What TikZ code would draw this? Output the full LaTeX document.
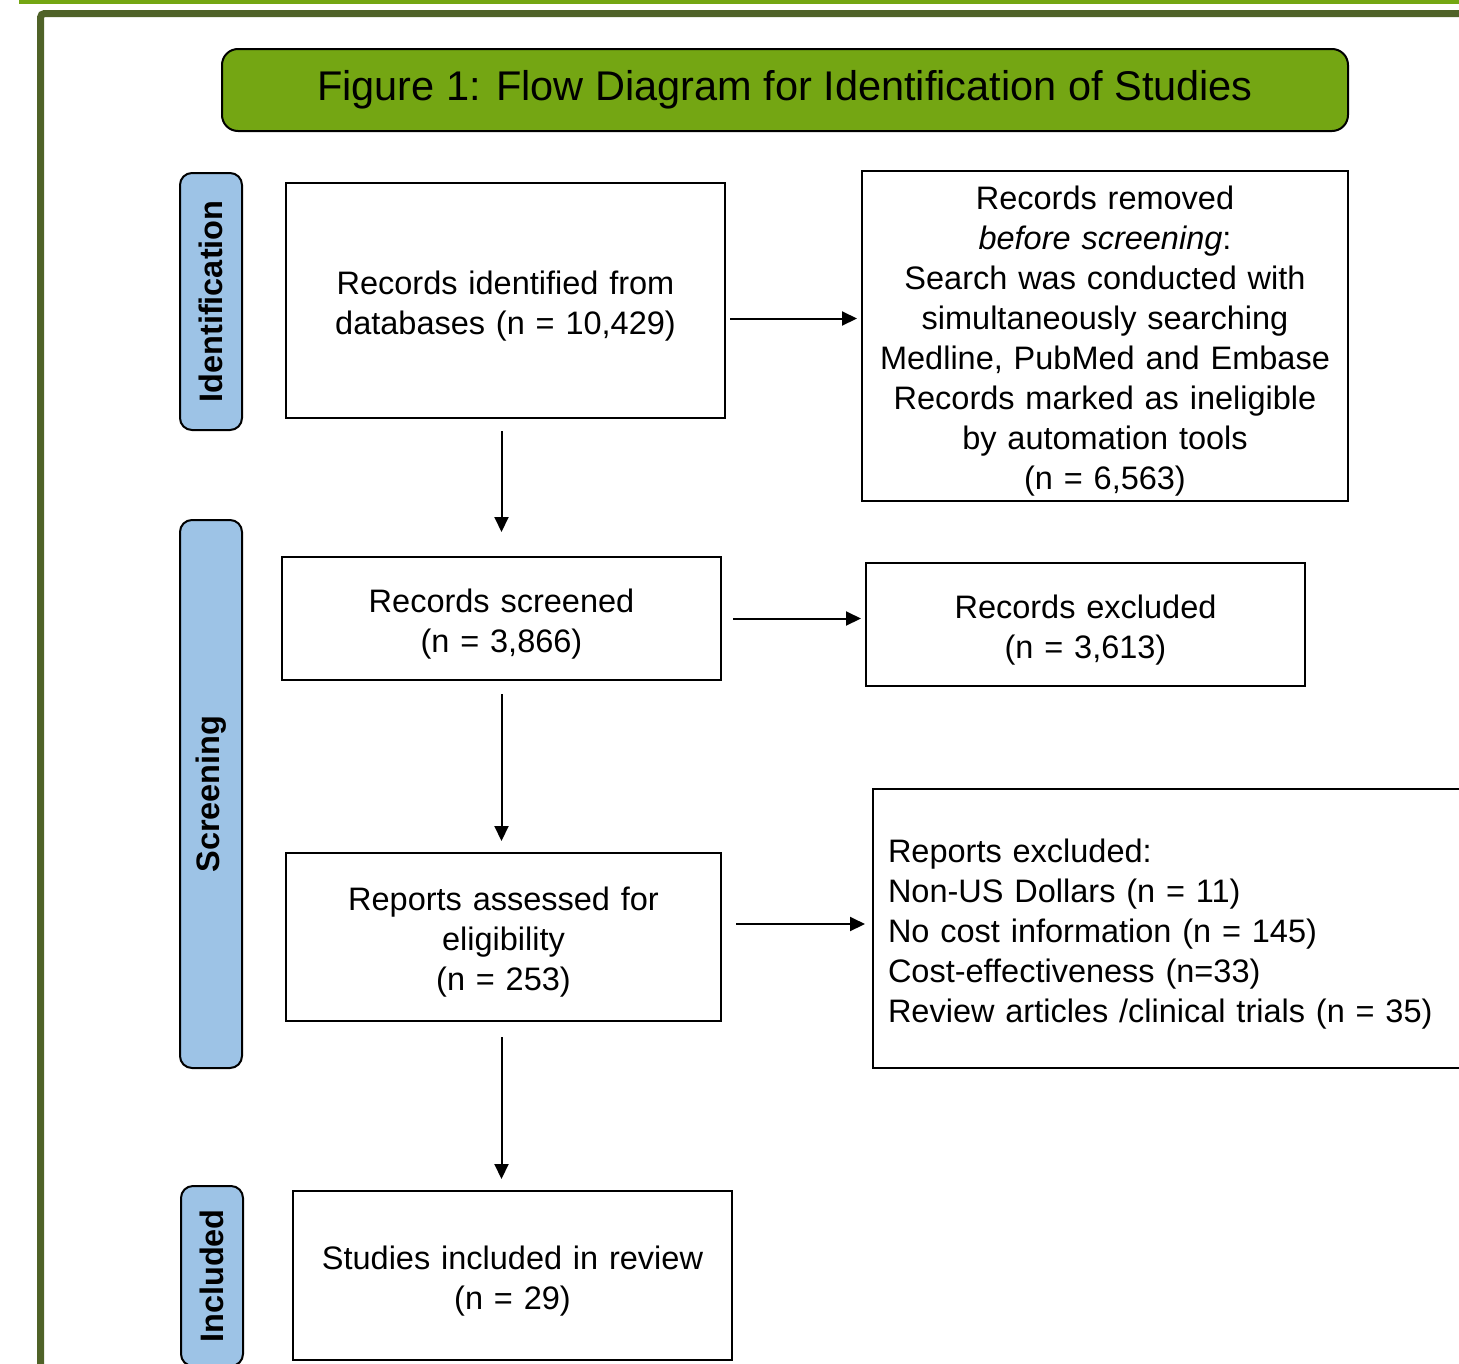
\documentclass[tikz,border=0pt]{standalone}
\usepackage{fontspec}
\setmainfont{Liberation Sans}
\usetikzlibrary{arrows.meta, positioning, calc}
\definecolor{framegreen}{RGB}{79, 98, 40}
\definecolor{titlegreen}{RGB}{116, 166, 19}
\definecolor{phaseblue}{RGB}{157, 195, 230}
\tikzstyle{stagebox} = [rectangle, draw=black, line width=2pt, fill=white, align=center, inner sep=0pt, font=\fontsize{32.5}{40}\selectfont, execute at begin node={\rule{0pt}{34pt}}]
\tikzstyle{phase} = [rectangle, rounded corners=12pt, draw=black, line width=2pt, fill=phaseblue, rotate=90, inner sep=0pt, font=\bfseries\fontsize{32.5}{36}\selectfont]
\tikzstyle{arrow} = [line width=2pt, -{Triangle[length=15pt, width=14pt]}]

\begin{document}
\begin{tikzpicture}[x=1pt, y=-1pt]
    \useasboundingbox (0,0) rectangle (1459,1363);

    % Page frame
    \fill[titlegreen] (19,0) rectangle (1470,4);
    \draw[framegreen, line width=7pt, rounded corners=4pt] (40.5,13.5) rectangle (1480,1390);

    % Title
    \node[rectangle, rounded corners=16pt, draw=black, line width=2pt, fill=titlegreen, minimum width=1126pt, minimum height=82pt, font=\fontsize{41.5}{48}\selectfont] (title) at (785,90) {Figure 1: Flow Diagram for Identification of Studies};

    % Phase labels
    \node[phase, minimum width=257pt, minimum height=62pt] (ident) at (211,301.5) {Identification};
    \node[phase, minimum width=548pt, minimum height=62pt] (screen) at (211,794) {Screening};
    \node[phase, minimum width=180pt, minimum height=62pt] (incl) at (212,1276) {Included};

    % Identification
    \node[stagebox, text width=439pt, minimum height=235pt] (found) at (505.5,300.5) {Records identified from\\databases (n = 10,429)};
    \node[stagebox, text width=486pt, minimum height=330pt] (removed) at (1105,336) {Records removed\\\textit{before screening}:\\Search was conducted with\\simultaneously searching\\Medline, PubMed and Embase\\Records marked as ineligible\\by automation tools\\(n = 6,563)};

    % Screening
    \node[stagebox, text width=439pt, minimum height=123pt] (screened) at (501.5,618.5) {Records screened\\(n = 3,866)};
    \node[stagebox, text width=439pt, minimum height=123pt] (excluded) at (1085.5,624.5) {Records excluded\\(n = 3,613)};
    \node[stagebox, text width=435pt, minimum height=168pt] (assessed) at (503.5,937) {Reports assessed for\\eligibility\\(n = 253)};
    \node[stagebox, align=left, text width=572pt, inner xsep=15pt, minimum height=279pt] (reports) at (1174,928.5) {Reports excluded:\\Non-US Dollars (n = 11)\\No cost information (n = 145)\\Cost-effectiveness (n=33)\\Review articles /clinical trials (n = 35)};

    % Included
    \node[stagebox, text width=439pt, minimum height=169pt] (studies) at (512.5,1275.5) {Studies included in review\\(n = 29)};

    % Arrows
    \draw[arrow, shorten <=4pt, shorten >=4pt] ([yshift=-18pt]found.east) -- ([yshift=-18pt]found.east -| removed.west);
    \draw[arrow, shorten <=11pt, shorten >=4pt] (screened.east) -- (screened.east -| excluded.west);
    \draw[arrow, shorten <=14pt, shorten >=7pt] ([yshift=13pt]assessed.east) -- ([yshift=13pt]assessed.east -| reports.west);
    \draw[arrow, shorten <=12pt, shorten >=24pt] (found.south -| screened.north) -- (screened.north);
    \draw[arrow, shorten <=13pt, shorten >=11pt] (screened.south) -- (assessed.north -| screened.south);
    \draw[arrow, shorten <=15pt, shorten >=11pt] (assessed.south -| screened.south) -- (studies.north -| screened.south);
\end{tikzpicture}
\end{document}
